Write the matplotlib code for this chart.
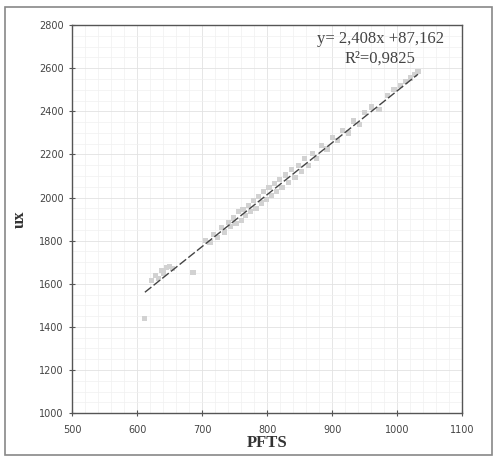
import numpy as np
import matplotlib.pyplot as plt
from matplotlib.patches import Rectangle
from matplotlib.ticker import MultipleLocator

# PFTS vs ux samples
pfts = [612, 622, 628, 633, 637, 641, 645, 650, 655, 686,
        705, 712, 718, 724, 730, 735, 740, 744, 748, 752,
        756, 760, 763, 767, 771, 775, 779, 783, 787, 791,
        795, 799, 803, 807, 811, 815, 819, 823, 828, 833,
        838, 843, 848, 853, 858, 864, 870, 876, 884, 892,
        900, 908, 916, 925, 933, 942, 950, 960, 972, 985,
        995, 1005, 1013, 1020, 1027, 1032]
ux = [1440, 1615, 1640, 1625, 1660, 1650, 1675, 1680, 1670, 1652,
      1800, 1790, 1830, 1815, 1860, 1840, 1885, 1865, 1905, 1880,
      1935, 1895, 1945, 1915, 1965, 1935, 1985, 1950, 2005, 1975,
      2030, 1990, 2045, 2010, 2065, 2030, 2085, 2045, 2105, 2070,
      2130, 2095, 2150, 2120, 2180, 2150, 2205, 2180, 2240, 2225,
      2280, 2265, 2310, 2300, 2355, 2340, 2395, 2420, 2410, 2475,
      2500, 2520, 2540, 2555, 2570, 2585]

slope = 2.408
intercept = 87.162
fit_range = [612, 1032]

fig = plt.figure(figsize=(4.97, 4.57), dpi=100)
ax = fig.add_axes([0.145, 0.096, 0.785, 0.849])

# outer frame round the whole chart
fig.patches.append(Rectangle((0.01, 0.004), 0.98, 0.98, transform=fig.transFigure,
                             fill=False, edgecolor='#888888', linewidth=1.2))

ax.set_xlim(500, 1100)
ax.set_ylim(1000, 2800)
ax.xaxis.set_major_locator(MultipleLocator(100))
ax.yaxis.set_major_locator(MultipleLocator(200))
ax.xaxis.set_minor_locator(MultipleLocator(20))
ax.yaxis.set_minor_locator(MultipleLocator(50))
ax.grid(which='major', color='#e2e2e2', linewidth=0.6)
ax.grid(which='minor', color='#f0f0f0', linewidth=0.5)
ax.set_axisbelow(True)

ax.scatter(pfts, ux, s=14, marker='s', color='#d2d2d2', edgecolors='none', zorder=2)

fx = np.array(fit_range)
ax.plot(fx, slope * fx + intercept, color='#444444', linewidth=1.0,
        linestyle=(0, (6, 2)), zorder=3)

ax.text(0.79, 0.985, 'y= 2,408x +87,162', transform=ax.transAxes, ha='center',
        va='top', fontsize=12, family='Liberation Serif', color='#444444')
ax.text(0.79, 0.935, 'R²=0,9825', transform=ax.transAxes, ha='center',
        va='top', fontsize=12, family='Liberation Serif', color='#444444')

for s in ax.spines.values():
    s.set_color('#555555')
    s.set_linewidth(1.0)
ax.tick_params(which='major', direction='inout', length=5, width=0.8,
               colors='#555555', labelsize=7)
ax.tick_params(axis='x', pad=6)
ax.tick_params(which='minor', length=0)
for lbl in ax.get_xticklabels() + ax.get_yticklabels():
    lbl.set_color('#444444')

ax.set_xlabel('PFTS', fontsize=12, fontweight='bold', family='Liberation Serif',
              color='#333333', labelpad=0)
ax.set_ylabel('ux', fontsize=12, fontweight='bold', family='Liberation Serif',
              color='#333333', labelpad=8)

plt.savefig('out.png', dpi=100)
